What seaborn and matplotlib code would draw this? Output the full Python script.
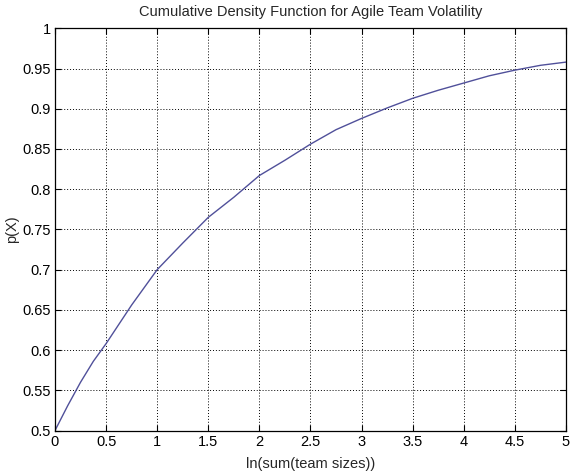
import matplotlib
matplotlib.use("Agg")
import matplotlib.pyplot as plt
import seaborn as sns
import pandas as pd
import numpy as np

x_vals = [0.0, 0.125, 0.25, 0.375, 0.5, 0.75, 1.0, 1.25, 1.5, 1.75, 2.0, 2.25, 2.5,
          2.75, 3.0, 3.25, 3.5, 3.75, 4.0, 4.25, 4.5, 4.75, 5.0]
p_vals = [0.500, 0.531, 0.560, 0.586, 0.608, 0.656, 0.700, 0.733, 0.765, 0.790, 0.817, 0.836, 0.856,
          0.874, 0.888, 0.901, 0.913, 0.923, 0.932, 0.941, 0.948, 0.954, 0.958]
x_ticks = [0, 0.5, 1, 1.5, 2, 2.5, 3, 3.5, 4, 4.5, 5]
x_tick_labels = ["0", "0.5", "1", "1.5", "2", "2.5", "3", "3.5", "4", "4.5", "5"]
y_ticks = [0.5, 0.55, 0.6, 0.65, 0.7, 0.75, 0.8, 0.85, 0.9, 0.95, 1]
y_tick_labels = ["0.5", "0.55", "0.6", "0.65", "0.7", "0.75", "0.8", "0.85", "0.9", "0.95", "1"]

title = "Cumulative Density Function for Agile Team Volatility"
xlabel = "ln(sum(team sizes))"
ylabel = "p(X)"

sns.set_style("white")
plt.rcParams["font.family"] = ["Liberation Sans", "DejaVu Sans"]

df = pd.DataFrame({"x": x_vals, "p": p_vals})

fig = plt.figure(figsize=(5.71, 4.72), dpi=100)
ax = fig.add_axes([0.0963, 0.0879, 0.9912 - 0.0963, 0.940 - 0.0879])

sns.lineplot(data=df, x="x", y="p", ax=ax, color="#50509a", linewidth=1.0)

ax.set_xlim(0, 5)
ax.set_ylim(0.5, 1)
ax.set_xticks(x_ticks)
ax.set_xticklabels(x_tick_labels)
ax.set_yticks(y_ticks)
ax.set_yticklabels(y_tick_labels)
ax.grid(True, color="black", linestyle=(0, (1, 2)), linewidth=0.7)
for s in ax.spines.values():
    s.set_visible(True)
    s.set_color("black")
    s.set_linewidth(0.9)
ax.tick_params(direction="in", length=4, width=0.8, top=True, right=True,
               bottom=True, left=True, labelsize=10.5, colors="black", pad=3)
ax.set_title(title, fontsize=10.5, pad=9)
ax.set_xlabel(xlabel, fontsize=10.5, labelpad=6)
ax.set_ylabel(ylabel, fontsize=10.5, labelpad=2)

fig.savefig("out.png", dpi=100)
